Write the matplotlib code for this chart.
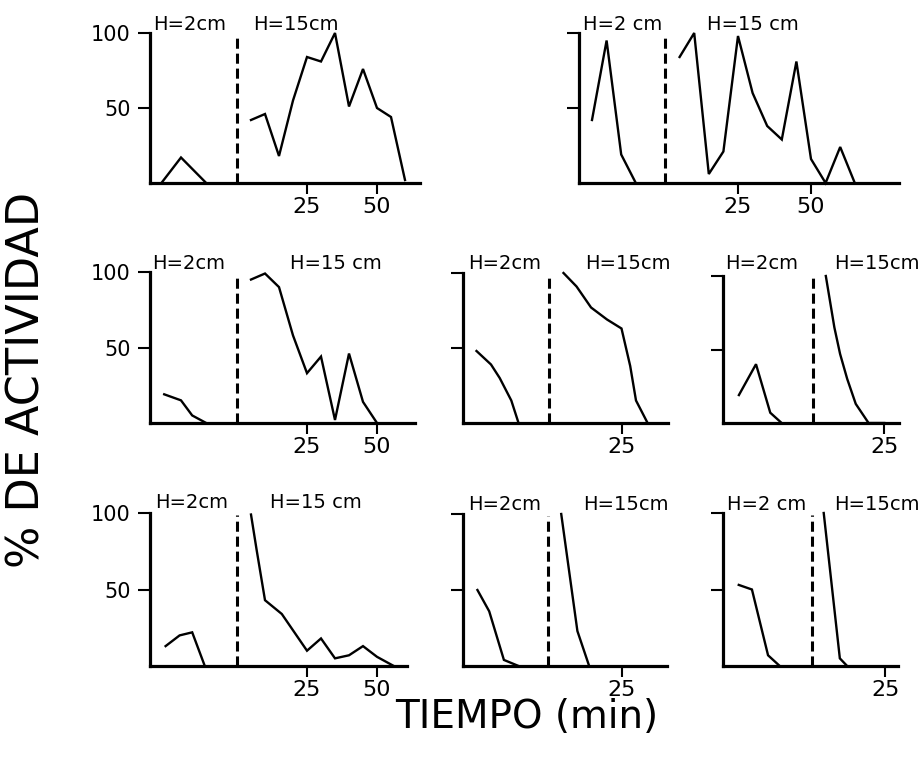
import matplotlib
matplotlib.use('Agg')
import matplotlib.pyplot as plt

# ── data: H=2cm (before the change, t<0) and H=15cm (after, t>0) ──────────
# panel A (top left)
a_h2_t = [-27, -20, -11]
a_h2_v = [0, 17, 0]
a_h15_t = [5, 10, 15, 20, 25, 30, 35, 40, 45, 50, 55, 60]
a_h15_v = [42, 46, 18, 55, 84, 81, 100, 51, 76, 50, 44, 2]
# panel B (top right)
b_h2_t = [-25, -20, -15, -10]
b_h2_v = [42, 95, 19, 0]
b_h15_t = [5, 10, 15, 20, 25, 30, 35, 40, 45, 50, 55, 60, 65]
b_h15_v = [84, 100, 6, 21, 98, 60, 38, 29, 81, 16, 0, 24, 0]
# panel C (middle left)
c_h2_t = [-26, -20, -16, -11]
c_h2_v = [19, 15, 5, 0]
c_h15_t = [5, 10, 15, 20, 25, 30, 35, 40, 45, 50]
c_h15_v = [95, 99, 90, 58, 33, 44, 2, 46, 14, 0]
# panel D (middle centre)
d_h2_t = [-25, -20, -17, -13, -10.5]
d_h2_v = [48, 39, 30, 15, 0]
d_h15_t = [5, 9.5, 14.5, 20, 25, 28, 30, 34]
d_h15_v = [100, 91, 77, 69, 63, 38, 15, 0]
# panel E (middle right)
e_h2_t = [-26, -20, -15, -11]
e_h2_v = [19, 40, 7, 0]
e_h15_t = [4.5, 7.5, 9.5, 12, 15, 19.5, 25]
e_h15_v = [100, 65, 47, 30, 13, 0, 0]
# panel F (bottom left)
f_h2_t = [-25.5, -20.5, -16, -11.5]
f_h2_v = [13, 20, 22, 0]
f_h15_t = [5, 7, 10, 16, 25, 30, 35, 40, 45, 50, 56]
f_h15_v = [99, 76, 43, 34, 10, 18, 5, 7, 13, 6, 0]
# panel G (bottom centre)
g_h2_t = [-24, -20, -15, -10]
g_h2_v = [50, 36, 4, 0]
g_h15_t = [4.5, 10, 14]
g_h15_v = [100, 23, 0]
# panel H (bottom right)
h_h2_t = [-25, -20.5, -15, -11]
h_h2_v = [53, 50, 7, 0]
h_h15_t = [4, 9.5, 12]
h_h15_v = [100, 5, 0]

y_ticks = [50, 100]
x_ticks = [25, 50]

# ── layout (pixels, y measured from top) ───────────────────────────────────
W, H, DPI = 923, 757, 100
# left, right, y of 100, y of 0, x of t=0, px per minute, show y labels,
# (text H=2, x, y), (text H=15, x, y)
panels = [
    (150, 420, 33, 183, 237, 2.80, True, a_h2_t, a_h2_v, a_h15_t, a_h15_v,
     ("H=2cm", 153, 25), ("H=15cm", 253, 25)),
    (579, 899, 33, 183, 665, 2.92, False, b_h2_t, b_h2_v, b_h15_t, b_h15_v,
     ("H=2 cm", 583, 24), ("H=15 cm", 707, 24)),
    (150, 415, 272, 423, 237, 2.80, True, c_h2_t, c_h2_v, c_h15_t, c_h15_v,
     ("H=2cm", 152, 263), ("H=15 cm", 290, 263)),
    (463, 668, 273, 423, 549, 2.90, False, d_h2_t, d_h2_v, d_h15_t, d_h15_v,
     ("H=2cm", 468, 263), ("H=15cm", 585, 263)),
    (723, 899, 276, 423, 813, 2.85, False, e_h2_t, e_h2_v, e_h15_t, e_h15_v,
     ("H=2cm", 725, 263), ("H=15cm", 834, 263)),
    (150, 407, 513, 666, 237, 2.80, True, f_h2_t, f_h2_v, f_h15_t, f_h15_v,
     ("H=2cm", 155, 503), ("H=15 cm", 270, 503)),
    (463, 667, 514, 666, 548, 2.94, False, g_h2_t, g_h2_v, g_h15_t, g_h15_v,
     ("H=2cm", 468, 504), ("H=15cm", 583, 504)),
    (723, 898, 513, 666, 812, 2.93, False, h_h2_t, h_h2_v, h_h15_t, h_h15_v,
     ("H=2 cm", 727, 504), ("H=15cm", 834, 504)),
]

AXIS_LW = 2.3
DATA_LW = 1.7


def draw():
    fig = plt.figure(figsize=(W / DPI, H / DPI), dpi=DPI, facecolor='white')

    for (L, R, top, base, x0, ppm, ylab, t2, v2, t15, v15, lab2, lab15) in panels:
        ax = fig.add_axes([L / W, 1 - base / H, (R - L) / W, (base - top) / H])
        for s in ('top', 'right'):
            ax.spines[s].set_visible(False)
        for s in ('left', 'bottom'):
            ax.spines[s].set_linewidth(AXIS_LW)
        ax.set_yticks(y_ticks)
        ax.set_yticklabels([str(v) for v in y_ticks] if ylab else ['', ''])
        ax.set_xticks(x_ticks)
        # limits after the ticks, otherwise set_xticks widens the view
        ax.set_xlim((L - x0) / ppm, (R - x0) / ppm)
        ax.set_ylim(0, 100)
        ax.tick_params(axis='y', direction='out', length=9, width=1.5,
                       labelsize=15, pad=5)
        ax.tick_params(axis='x', direction='out', length=8, width=1.5,
                       labelsize=16, pad=2)

        # boundary between the two heights
        ax.vlines(0, 0, 99, colors='black', linewidth=2.2,
                  linestyles=(0, (3.3, 1.6)), clip_on=False)

        ax.plot(t2, v2, color='black', lw=DATA_LW, clip_on=False,
                solid_joinstyle='miter')
        ax.plot(t15, v15, color='black', lw=DATA_LW, clip_on=False,
                solid_joinstyle='miter')

        for txt, px, py in (lab2, lab15):
            fig.text(px / W, 1 - py / H, txt, ha='left', va='center',
                     fontsize=14)

    fig.text(27 / W, 1 - 380 / H, '% DE ACTIVIDAD', rotation=90,
             ha='center', va='center', fontsize=32)
    fig.text(527 / W, 1 - 717 / H, 'TIEMPO (min)',
             ha='center', va='center', fontsize=28)

    fig.savefig('out.png', dpi=DPI, facecolor='white')
    plt.close(fig)


if __name__ == "__main__":
    draw()
